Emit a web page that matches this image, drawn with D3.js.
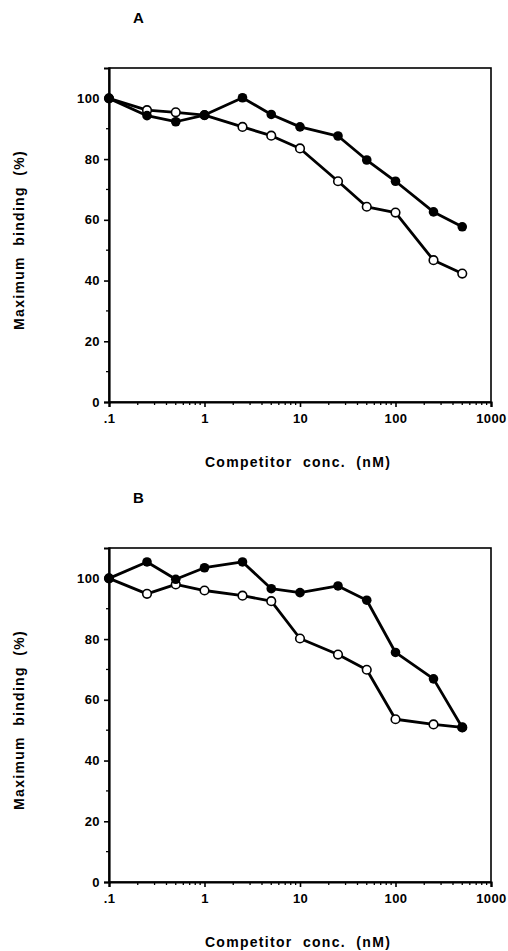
<!DOCTYPE html>
<html>
<head>
<meta charset="utf-8">
<script src="https://cdn.jsdelivr.net/npm/d3@7"></script>
<style>
body { margin: 0; background: #fff; }
text { font-family: "Liberation Sans", Arial, sans-serif; font-weight: bold; fill: #000; }
</style>
</head>
<body>
<script>
// data
var conc = [0.1, 0.25, 0.5, 1, 2.5, 5, 10, 25, 50, 100, 250, 500];

var filledA = [100, 94.3, 92.3, 94.5, 100.2, 94.7, 90.6, 87.6, 79.7, 72.7, 62.6, 57.7];
var openA   = [100, 96.1, 95.4, 94.5, 90.6, 87.7, 83.5, 72.7, 64.3, 62.4, 46.7, 42.3];

var filledB = [100, 105.4, 99.7, 103.5, 105.4, 96.6, 95.3, 97.5, 92.8, 75.6, 66.9, 50.9];
var openB   = [100, 94.9, 98.0, 96.0, 94.3, 92.5, 80.2, 74.9, 69.9, 53.6, 51.9, 50.9];

var xTicks = [0.1, 1, 10, 100, 1000];
var xTickLabels = [".1", "1", "10", "100", "1000"];
var yTicks = [0, 20, 40, 60, 80, 100];
var yMinor = [10, 30, 50, 70, 90];

var width = 508;
var height = 951;

var svg = d3.select("body")
    .append("svg")
    .attr("width", width)
    .attr("height", height);

function drawPanel(label, top, bottom, filled, open) {
    var left = 109, right = 491;

    var x = d3.scaleLog().domain([0.1, 1000]).range([left, right]);
    var y = d3.scaleLinear().domain([0, 110]).range([bottom, top]);

    var g = svg.append("g");

    // frame
    g.append("rect")
        .attr("x", left)
        .attr("y", top)
        .attr("width", right - left)
        .attr("height", bottom - top)
        .attr("fill", "none")
        .attr("stroke", "#000")
        .attr("stroke-width", 1.6);

    // x axis: decades + minor ticks
    var minor = [];
    for (var d = 0.1; d < 1000; d *= 10) {
        for (var k = 2; k <= 9; k++) minor.push(d * k);
    }
    g.selectAll(".xminor")
        .data(minor)
        .enter().append("line")
        .attr("x1", function(d) { return x(d); })
        .attr("x2", function(d) { return x(d); })
        .attr("y1", bottom)
        .attr("y2", bottom + 3)
        .attr("stroke", "#000")
        .attr("stroke-width", 1.3);

    var xAxis = d3.axisBottom(x)
        .tickValues(xTicks)
        .tickFormat(function(d, i) { return xTickLabels[i]; })
        .tickSize(5)
        .tickPadding(7);

    var gx = g.append("g")
        .attr("transform", "translate(0," + bottom + ")")
        .call(xAxis);
    gx.select(".domain").attr("stroke-width", 2.2);
    gx.selectAll(".tick line").attr("stroke-width", 1.6);
    gx.selectAll("text").style("font-size", "13px").style("letter-spacing", "0.4px").attr("font-family", null);

    // y axis
    g.selectAll(".yminor")
        .data(yMinor)
        .enter().append("line")
        .attr("x1", left - 3)
        .attr("x2", left)
        .attr("y1", function(d) { return y(d); })
        .attr("y2", function(d) { return y(d); })
        .attr("stroke", "#000")
        .attr("stroke-width", 1.3);

    var yAxis = d3.axisLeft(y)
        .tickValues(yTicks)
        .tickSize(5)
        .tickPadding(4);

    var gy = g.append("g")
        .attr("transform", "translate(" + left + ",0)")
        .call(yAxis);
    gy.select(".domain").attr("stroke-width", 2.2);
    gy.selectAll(".tick line").attr("stroke-width", 1.6);
    gy.selectAll("text").style("font-size", "13px").style("letter-spacing", "0.4px").attr("font-family", null);

    // series
    var line = d3.line()
        .x(function(d, i) { return x(conc[i]); })
        .y(function(d) { return y(d); });

    [open, filled].forEach(function(s) {
        g.append("path")
            .datum(s)
            .attr("d", line)
            .attr("fill", "none")
            .attr("stroke", "#000")
            .attr("stroke-width", 2.8)
            .attr("stroke-linejoin", "round");
    });

    g.selectAll(".open")
        .data(open)
        .enter().append("circle")
        .attr("cx", function(d, i) { return x(conc[i]); })
        .attr("cy", function(d) { return y(d); })
        .attr("r", 4.3)
        .attr("fill", "#fff")
        .attr("stroke", "#000")
        .attr("stroke-width", 1.6);

    g.selectAll(".filled")
        .data(filled)
        .enter().append("circle")
        .attr("cx", function(d, i) { return x(conc[i]); })
        .attr("cy", function(d) { return y(d); })
        .attr("r", 4.8)
        .attr("fill", "#000");

    // titles
    g.append("text")
        .attr("x", 298)
        .attr("y", bottom + 65)
        .attr("text-anchor", "middle")
        .style("font-size", "14px")
        .style("letter-spacing", "1.3px")
        .attr("xml:space", "preserve")
        .text("Competitor  conc.  (nM)");

    g.append("text")
        .attr("transform", "translate(24," + ((top + bottom) / 2 + 5) + ") rotate(-90)")
        .attr("text-anchor", "middle")
        .style("font-size", "14px")
        .style("letter-spacing", "1.3px")
        .attr("xml:space", "preserve")
        .text("Maximum  binding  (%)");

    g.append("text")
        .attr("x", 133)
        .attr("y", top - 45)
        .style("font-size", "15px")
        .text(label);
}

drawPanel("A", 68, 402, filledA, openA);
drawPanel("B", 548, 882, filledB, openB);
</script>
</body>
</html>
